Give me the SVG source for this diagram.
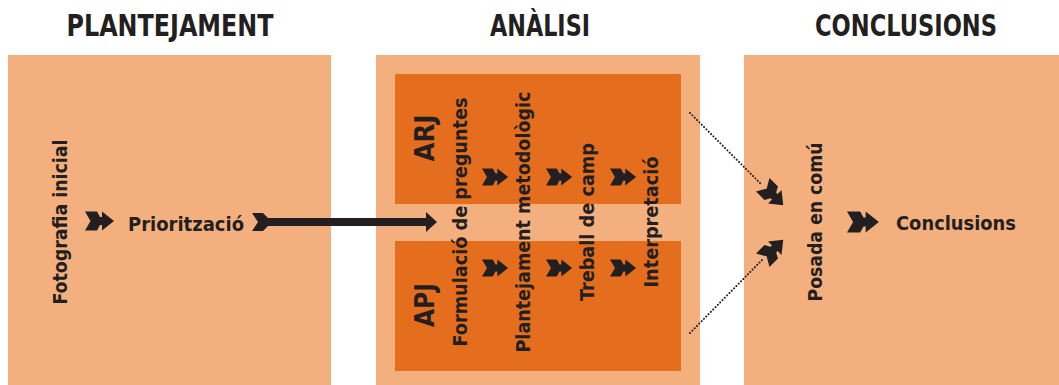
<svg xmlns="http://www.w3.org/2000/svg" xmlns:xlink="http://www.w3.org/1999/xlink" width="1059" height="385" viewBox="0 0 1059 385">
<style>
.light{fill:#F3B07E}
.dark{fill:#E46E1E}
text{font-family:"DejaVu Sans Condensed","DejaVu Sans",sans-serif;font-stretch:condensed;font-weight:bold;fill:#231F20;text-anchor:middle}
.head{font-size:30px}
.lbl{font-size:19px}
.big{font-size:27px}
.ar{fill:#231F20}
.dot{stroke:#231F20;stroke-width:2;stroke-linecap:round;stroke-dasharray:0.1 3.2;fill:none}
</style>
<defs>
<path id="fl" d="M0,-9.5 L12,-9.5 L15,-4 L17,-4 L17,-9.5 L29,0 L17,9.5 L17,4 L15,4 L12,9.5 L0,9.5 L5.5,0 Z"/>
</defs>
<rect width="1059" height="385" fill="#FFFFFF"/>
<g id="plantejament">
<text class="head" x="170" y="36" textLength="207" lengthAdjust="spacingAndGlyphs">PLANTEJAMENT</text>
<rect class="light" x="8" y="55" width="323" height="330"/>
</g>
<g id="analisi">
<text class="head" x="540" y="36" textLength="100" lengthAdjust="spacingAndGlyphs">ANÀLISI</text>
<rect class="light" x="376" y="55" width="324" height="330"/>
<rect class="dark" x="395" y="74" width="286" height="130"/>
<rect class="dark" x="395" y="241" width="286" height="130"/>
</g>
<g id="conclusions-panel">
<text class="head" x="906" y="36" textLength="182" lengthAdjust="spacingAndGlyphs">CONCLUSIONS</text>
<rect class="light" x="744" y="55" width="315" height="330"/>
</g>
<g id="fotografia">
<text class="lbl" transform="translate(67,222) rotate(-90)" textLength="165" lengthAdjust="spacingAndGlyphs">Fotografia inicial</text>
</g>
<g id="prioritzacio">
<text class="lbl" x="186" y="231" textLength="116" lengthAdjust="spacingAndGlyphs">Priorització</text>
</g>
<g id="arj">
<text class="big" transform="translate(434,138) rotate(-90)" textLength="47" lengthAdjust="spacingAndGlyphs">ARJ</text>
</g>
<g id="apj">
<text class="big" transform="translate(434,305) rotate(-90)" textLength="44" lengthAdjust="spacingAndGlyphs">APJ</text>
</g>
<g id="formulacio">
<text class="lbl" transform="translate(467,222) rotate(-90)" textLength="249" lengthAdjust="spacingAndGlyphs">Formulació de preguntes</text>
</g>
<g id="plantejament-metodologic">
<text class="lbl" transform="translate(530,222) rotate(-90)" textLength="261" lengthAdjust="spacingAndGlyphs">Plantejament metodològic</text>
</g>
<g id="treball">
<text class="lbl" transform="translate(594,222) rotate(-90)" textLength="158" lengthAdjust="spacingAndGlyphs">Treball de camp</text>
</g>
<g id="interpretacio">
<text class="lbl" transform="translate(658,222) rotate(-90)" textLength="131" lengthAdjust="spacingAndGlyphs">Interpretació</text>
</g>
<g id="posada">
<text class="lbl" transform="translate(822,222) rotate(-90)" textLength="159" lengthAdjust="spacingAndGlyphs">Posada en comú</text>
</g>
<g id="conclusions">
<text class="lbl" x="956" y="230" textLength="120" lengthAdjust="spacingAndGlyphs">Conclusions</text>
</g>
<g id="connectors">
<use xlink:href="#fl" class="ar" transform="translate(85,221)"/>
<path class="ar" d="M252,213 L263,213 L268,218 L426,218 L426,212 L437,222 L426,232 L426,226 L268,226 L263,231 L252,231 L258,222 Z"/>
<use xlink:href="#fl" class="ar" transform="translate(482,177) scale(0.9)"/>
<use xlink:href="#fl" class="ar" transform="translate(546,177) scale(0.9)"/>
<use xlink:href="#fl" class="ar" transform="translate(610,177) scale(0.9)"/>
<use xlink:href="#fl" class="ar" transform="translate(482,268) scale(0.9)"/>
<use xlink:href="#fl" class="ar" transform="translate(546,268) scale(0.9)"/>
<use xlink:href="#fl" class="ar" transform="translate(610,268) scale(0.9)"/>
<line class="dot" x1="690" y1="113" x2="762" y2="185"/>
<line class="dot" x1="690" y1="333" x2="762" y2="260"/>
<use xlink:href="#fl" class="ar" transform="translate(773,195) rotate(45) translate(-14.5,0)"/>
<use xlink:href="#fl" class="ar" transform="translate(773,250) rotate(-45) translate(-14.5,0)"/>
<use xlink:href="#fl" class="ar" transform="translate(847,222) scale(1.1)"/>
</g>
</svg>
